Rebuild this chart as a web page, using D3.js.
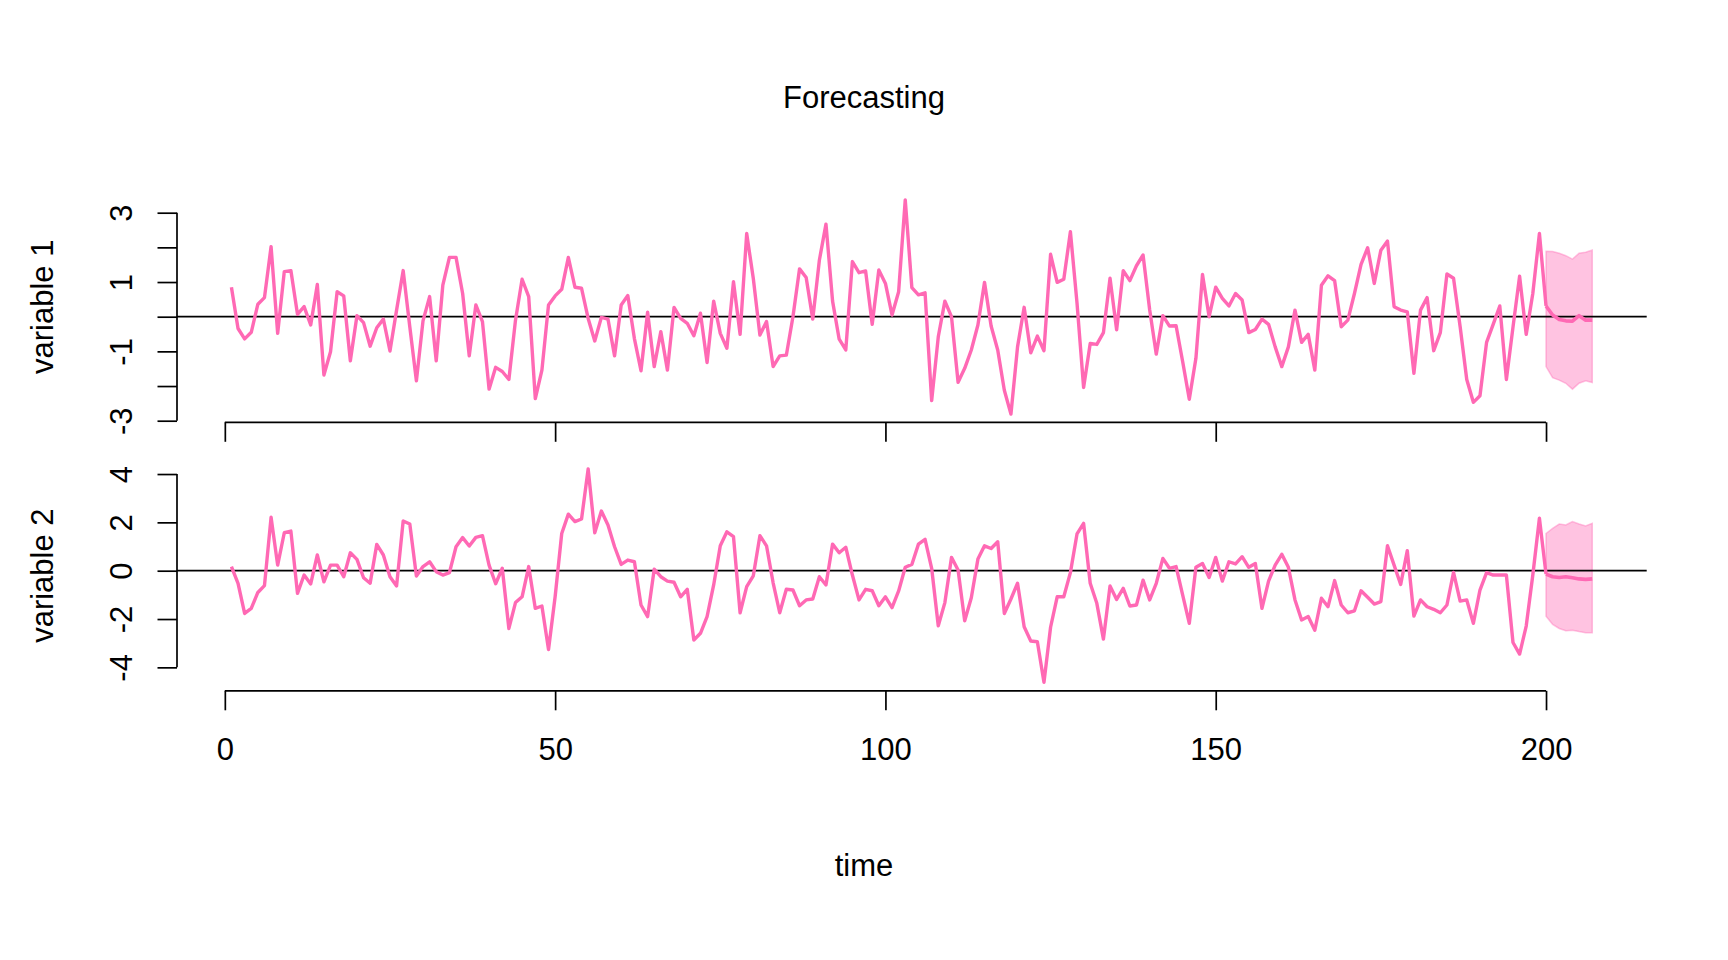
<!DOCTYPE html>
<html>
<head>
<meta charset="utf-8">
<style>
  body { margin: 0; background: #fff; }
  svg text { font-family: "Liberation Sans", Arial, Helvetica, sans-serif; fill: #000; }
</style>
</head>
<body>
<div id="chart"></div>
<script src="https://d3js.org/d3.v7.min.js"></script>
<script>
  // observed series, time 1..200
  const series1 = [
    0.85, -0.34, -0.64, -0.45, 0.36, 0.55, 2.02, -0.48, 1.30, 1.33,
    0.07, 0.29, -0.24, 0.93, -1.68, -1.01, 0.72, 0.60, -1.27, 0.03,
    -0.17, -0.85, -0.32, -0.07, -0.99, 0.19, 1.33, -0.29, -1.85, -0.12,
    0.58, -1.27, 0.91, 1.71, 1.71, 0.67, -1.13, 0.34, -0.14, -2.09,
    -1.46, -1.58, -1.81, -0.10, 1.08, 0.58, -2.36, -1.54, 0.34, 0.60,
    0.79, 1.71, 0.85, 0.82, -0.05, -0.70, -0.02, -0.07, -1.13, 0.34,
    0.61, -0.63, -1.56, 0.13, -1.44, -0.43, -1.54, 0.27, -0.05, -0.19,
    -0.55, 0.10, -1.32, 0.45, -0.48, -0.91, 1.01, -0.51, 2.40, 1.10,
    -0.53, -0.14, -1.44, -1.13, -1.11, 0.00, 1.38, 1.13, -0.07, 1.63,
    2.67, 0.45, -0.65, -0.96, 1.59, 1.27, 1.32, -0.22, 1.35, 0.96,
    0.05, 0.72, 3.37, 0.84, 0.63, 0.69, -2.42, -0.58, 0.45, 0.00,
    -1.89, -1.49, -0.96, -0.24, 0.99, -0.27, -0.96, -2.12, -2.81, -0.87,
    0.27, -1.04, -0.56, -0.98, 1.80, 0.99, 1.08, 2.45, 0.40, -2.04,
    -0.77, -0.80, -0.46, 1.11, -0.38, 1.33, 1.04, 1.47, 1.78, 0.20,
    -1.08, 0.03, -0.27, -0.26, -1.30, -2.38, -1.20, 1.22, 0.00, 0.85,
    0.53, 0.31, 0.67, 0.48, -0.46, -0.37, -0.07, -0.22, -0.87, -1.44,
    -0.87, 0.19, -0.74, -0.51, -1.54, 0.91, 1.18, 1.04, -0.29, -0.10,
    0.67, 1.51, 1.99, 0.96, 1.92, 2.18, 0.29, 0.19, 0.14, -1.63,
    0.19, 0.55, -0.98, -0.46, 1.23, 1.11, -0.29, -1.81, -2.47, -2.28,
    -0.74, -0.22, 0.31, -1.81, -0.30, 1.17, -0.51, 0.67, 2.40, 0.31
  ];

  const series2 = [
    0.17, -0.52, -1.77, -1.56, -0.90, -0.62, 2.21, 0.23, 1.57, 1.64,
    -0.94, -0.18, -0.55, 0.65, -0.46, 0.23, 0.23, -0.25, 0.74, 0.47,
    -0.29, -0.52, 1.09, 0.65, -0.25, -0.63, 2.06, 1.93, -0.22, 0.17,
    0.37, -0.04, -0.18, -0.08, 0.99, 1.37, 1.02, 1.38, 1.45, 0.23,
    -0.54, 0.10, -2.39, -1.32, -1.08, 0.17, -1.56, -1.46, -3.26, -1.08,
    1.54, 2.34, 2.03, 2.14, 4.21, 1.57, 2.47, 1.89, 0.99, 0.26,
    0.44, 0.37, -1.42, -1.90, 0.06, -0.25, -0.43, -0.48, -1.08, -0.77,
    -2.87, -2.59, -1.90, -0.59, 1.03, 1.61, 1.41, -1.74, -0.66, -0.21,
    1.45, 1.03, -0.50, -1.74, -0.77, -0.80, -1.45, -1.21, -1.17, -0.25,
    -0.59, 1.10, 0.74, 0.97, -0.18, -1.21, -0.77, -0.83, -1.45, -1.08,
    -1.53, -0.84, 0.14, 0.26, 1.10, 1.30, 0.10, -2.28, -1.32, 0.55,
    0.03, -2.07, -1.12, 0.48, 1.03, 0.92, 1.20, -1.77, -1.17, -0.52,
    -2.32, -2.91, -2.94, -4.62, -2.34, -1.08, -1.08, -0.08, 1.52, 1.96,
    -0.52, -1.35, -2.83, -0.63, -1.19, -0.73, -1.46, -1.42, -0.39, -1.21,
    -0.52, 0.51, 0.10, 0.17, -1.01, -2.18, 0.14, 0.30, -0.28, 0.55,
    -0.43, 0.37, 0.28, 0.58, 0.14, 0.30, -1.56, -0.43, 0.23, 0.68,
    0.14, -1.21, -2.04, -1.90, -2.46, -1.14, -1.49, -0.41, -1.42, -1.74,
    -1.66, -0.83, -1.10, -1.38, -1.28, 1.03, 0.23, -0.57, 0.83, -1.88,
    -1.21, -1.49, -1.60, -1.74, -1.42, -0.07, -1.26, -1.21, -2.18, -0.80,
    -0.08, -0.18, -0.18, -0.18, -2.97, -3.45, -2.29, -0.18, 2.17, -0.14
  ];

  // forecast (starts at last observation)
  const fcTime = [200, 201, 202, 203, 204, 205, 206, 207];
  const fcMean1 = [0.31, 0.05, -0.08, -0.12, -0.13, 0.03, -0.10, -0.10];
  const fcUpper1 = [1.89, 1.88, 1.83, 1.76, 1.66, 1.83, 1.86, 1.92];
  const fcLower1 = [-1.44, -1.76, -1.83, -1.92, -2.09, -1.92, -1.85, -1.90];
  const fcMean2 = [-0.14, -0.25, -0.28, -0.25, -0.29, -0.34, -0.36, -0.34];
  const fcUpper2 = [1.54, 1.75, 1.93, 1.89, 2.03, 1.93, 1.85, 1.96];
  const fcLower2 = [-1.88, -2.22, -2.39, -2.48, -2.46, -2.52, -2.57, -2.57];

  const xTicks = [0, 50, 100, 150, 200];
  const yTicks1 = [-3, -2, -1, 0, 1, 2, 3];
  const yLabels1 = [-3, -1, 1, 3];
  const yTicks2 = [-4, -2, 0, 2, 4];
  const yLabels2 = [-4, -2, 0, 2, 4];

  const width = 1728;
  const height = 960;
  const pink = '#ff69b4';
  const fontSize = 31;
  const tickLen = 19.5;

  const svg = d3.select('#chart')
    .append('svg')
    .attr('width', width)
    .attr('height', height)
    .style('background', '#fff');

  const xScale = d3.scaleLinear()
    .domain([-7.24, 215.24])
    .range([177, 1646.7]);

  const panels = [
    { name: 'variable 1', values: series1, mean: fcMean1, upper: fcUpper1, lower: fcLower1,
      domain: [-3.046, 3.62], range: [422.3, 191.2], ticks: yTicks1, labels: yLabels1, xLabels: false },
    { name: 'variable 2', values: series2, mean: fcMean2, upper: fcUpper2, lower: fcLower2,
      domain: [-4.97, 4.56], range: [690.8, 460.5], ticks: yTicks2, labels: yLabels2, xLabels: true }
  ];

  panels.forEach(p => {
    const yScale = d3.scaleLinear().domain(p.domain).range(p.range);
    const g = svg.append('g');
    const left = xScale.range()[0];

    // forecast band
    const band = d3.area()
      .x((d, i) => xScale(fcTime[i]))
      .y0((d, i) => yScale(p.lower[i]))
      .y1((d, i) => yScale(p.upper[i]));
    g.append('path')
      .datum(fcTime)
      .attr('d', band)
      .attr('fill', 'rgba(255,105,180,0.4)')
      .attr('stroke', 'rgba(255,105,180,0.4)')
      .attr('stroke-width', 1.5);

    // zero line
    g.append('line')
      .attr('x1', xScale.range()[0])
      .attr('x2', xScale.range()[1])
      .attr('y1', yScale(0))
      .attr('y2', yScale(0))
      .attr('stroke', '#000')
      .attr('stroke-width', 1.7);

    const line = d3.line()
      .x(d => xScale(d[0]))
      .y(d => yScale(d[1]));

    g.append('path')
      .datum(p.values.map((v, i) => [i + 1, v]))
      .attr('d', line)
      .attr('fill', 'none')
      .attr('stroke', pink)
      .attr('stroke-width', 3.4)
      .attr('stroke-linejoin', 'round');

    g.append('path')
      .datum(p.mean.map((v, i) => [fcTime[i], v]))
      .attr('d', line)
      .attr('fill', 'none')
      .attr('stroke', pink)
      .attr('stroke-width', 3.6)
      .attr('stroke-linejoin', 'round');

    // y axis
    const yAxis = d3.axisLeft(yScale)
      .tickValues(p.ticks)
      .tickSize(tickLen)
      .tickFormat(d => p.labels.includes(d) ? d : '');
    const yg = g.append('g')
      .attr('transform', `translate(${left}, 0)`)
      .call(yAxis);
    yg.select('.domain').remove();
    yg.append('line')
      .attr('y1', yScale(d3.min(p.ticks)))
      .attr('y2', yScale(d3.max(p.ticks)))
      .attr('stroke', '#000')
      .attr('stroke-width', 1.7);
    yg.selectAll('.tick line').attr('stroke-width', 1.7);
    yg.selectAll('.tick text')
      .attr('transform', 'rotate(-90)')
      .attr('x', 0)
      .attr('y', -(left - 131.7))
      .attr('dy', 0)
      .attr('text-anchor', 'middle')
      .style('font-size', fontSize + 'px')
      .style('font-family', '"Liberation Sans", Arial, sans-serif');

    // x axis
    const xAxis = d3.axisBottom(xScale)
      .tickValues(xTicks)
      .tickSize(tickLen)
      .tickFormat(d => p.xLabels ? d : '');
    const xg = g.append('g')
      .attr('transform', `translate(0, ${p.range[0]})`)
      .call(xAxis);
    xg.select('.domain').remove();
    xg.append('line')
      .attr('x1', xScale(d3.min(xTicks)))
      .attr('x2', xScale(d3.max(xTicks)))
      .attr('stroke', '#000')
      .attr('stroke-width', 1.7);
    xg.selectAll('.tick line').attr('stroke-width', 1.7);
    xg.selectAll('.tick text')
      .attr('y', 69)
      .attr('dy', 0)
      .style('font-size', fontSize + 'px')
      .style('font-family', '"Liberation Sans", Arial, sans-serif');

    // panel label
    const cy = (p.range[0] + p.range[1]) / 2;
    svg.append('text')
      .attr('transform', `translate(53, ${cy}) rotate(-90)`)
      .attr('text-anchor', 'middle')
      .style('font-size', fontSize + 'px')
      .text(p.name);
  });

  svg.append('text')
    .attr('x', width / 2)
    .attr('y', 108)
    .attr('text-anchor', 'middle')
    .style('font-size', fontSize + 'px')
    .text('Forecasting');

  svg.append('text')
    .attr('x', width / 2)
    .attr('y', 876)
    .attr('text-anchor', 'middle')
    .style('font-size', fontSize + 'px')
    .text('time');
</script>
</body>
</html>
